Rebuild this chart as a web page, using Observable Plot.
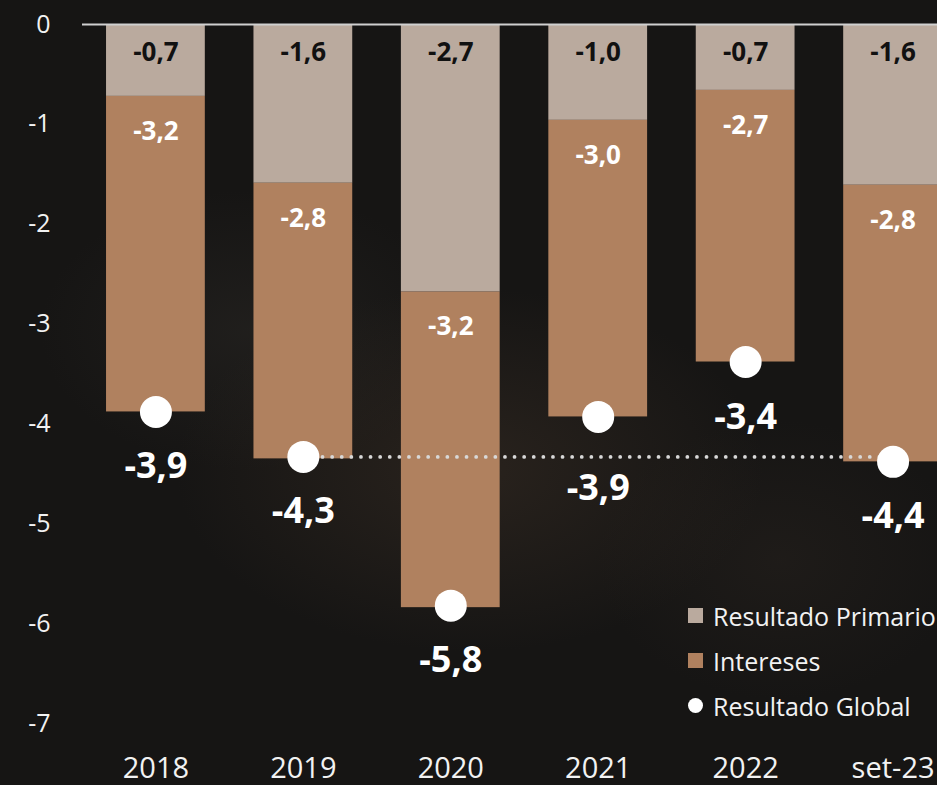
<!DOCTYPE html>
<html>
<head>
<meta charset="utf-8">
<script src="https://cdn.jsdelivr.net/npm/d3@7"></script>
<script src="https://cdn.jsdelivr.net/npm/@observablehq/plot@0.6"></script>
<style>
  html, body { margin: 0; padding: 0; overflow: hidden; }
  body {
    width: 937px; height: 785px;
    background:
      radial-gradient(ellipse 420px 260px at 470px 470px, rgba(60,48,38,0.5), rgba(0,0,0,0) 70%),
      radial-gradient(ellipse 300px 200px at 250px 330px, rgba(55,52,48,0.3), rgba(0,0,0,0) 70%),
      radial-gradient(ellipse 260px 200px at 780px 560px, rgba(50,42,36,0.3), rgba(0,0,0,0) 70%),
      #161514;
    font-family: "Open Sans", "Noto Sans", sans-serif;
  }
  #wrap { position: relative; width: 937px; height: 785px; }
  #legend { position: absolute; left: 688px; top: 593px; color: #f2f2f2; font-size: 25px; }
  #legend .row { display: flex; align-items: center; height: 45px; white-space: nowrap; }
  #legend .sw { width: 15px; height: 15px; margin-right: 10px; flex: none; }
  #legend .ci { width: 15px; height: 15px; border-radius: 50%; background: #fff; margin-right: 10px; flex: none; }
</style>
</head>
<body>
<div id="wrap"></div>
<script>
const categorias = ["2018", "2019", "2020", "2021", "2022", "set-23"];
const resultadoPrimario = [-0.72, -1.59, -2.68, -0.96, -0.66, -1.61];
const intereses = [-3.16, -2.76, -3.16, -2.97, -2.72, -2.77];
const resultadoGlobal = [-3.88, -4.33, -5.82, -3.93, -3.38, -4.38];
const yTicks = [0, -1, -2, -3, -4, -5, -6, -7];
const series = ["Resultado Primario", "Intereses", "Resultado Global"];
const colores = ["#baaa9e", "#b0815f", "#ffffff"];

const fmt = v => v.toFixed(1).replace(".", ",");

const primRows = categorias.map((c, i) => ({cat: c, y1: 0, y2: resultadoPrimario[i], v: resultadoPrimario[i]}));
const intRows = categorias.map((c, i) => ({cat: c, y1: resultadoPrimario[i], y2: resultadoPrimario[i] + intereses[i], v: intereses[i]}));
const globRows = categorias.map((c, i) => ({cat: c, v: resultadoGlobal[i]}));
const refLine = [
  {cat: categorias[1], v: resultadoGlobal[1]},
  {cat: categorias[5], v: resultadoGlobal[1]}
];

const chart = Plot.plot({
  width: 937,
  height: 785,
  marginLeft: 82,
  marginRight: 0,
  marginTop: 24,
  marginBottom: 62,
  style: {background: "transparent", color: "#f2f2f2", fontFamily: "'Open Sans', 'Noto Sans', sans-serif", overflow: "hidden"},
  x: {type: "band", domain: categorias, range: [82, 966], paddingInner: 0.33, paddingOuter: 0.163, round: false, label: null},
  y: {domain: [-7, 0], label: null},
  marks: [
    Plot.barY(primRows, {x: "cat", y1: "y1", y2: "y2", fill: colores[0]}),
    Plot.barY(intRows, {x: "cat", y1: "y1", y2: "y2", fill: colores[1]}),
    Plot.ruleY([0], {stroke: "#d0d0d0", strokeWidth: 2}),
    Plot.line(refLine, {x: "cat", y: "v", stroke: "#d8d8d8", strokeWidth: 3.8, strokeDasharray: "0 9.6", strokeLinecap: "round"}),
    Plot.dot(globRows, {x: "cat", y: "v", r: 16, fill: colores[2], stroke: null}),
    Plot.text(primRows, {x: "cat", y: "y1", text: d => fmt(d.v), dy: 28, fill: "#111", fontSize: 26, fontWeight: "bold"}),
    Plot.text(intRows, {x: "cat", y: "y1", text: d => fmt(d.v), dy: 35, fill: "#fff", fontSize: 26, fontWeight: "bold"}),
    Plot.text(globRows, {filter: d => d.cat !== "2021", x: "cat", y: "v", text: d => fmt(d.v), dy: 55, fill: "#fff", fontSize: 36, fontWeight: "bold"}),
    Plot.text(globRows, {filter: d => d.cat === "2021", x: "cat", y: "v", text: d => fmt(d.v), dy: 72, fill: "#fff", fontSize: 36, fontWeight: "bold"}),
    Plot.axisY({ticks: yTicks, tickSize: 0, tickPadding: 32, tickFormat: d => String(d), fontSize: 25, fill: "#f2f2f2", label: null}),
    Plot.axisX({tickSize: 0, tickPadding: 34, fontSize: 29, fill: "#f2f2f2", label: null})
  ]
});

const wrap = document.getElementById("wrap");
wrap.appendChild(chart);

const legend = document.createElement("div");
legend.id = "legend";
series.forEach((s, i) => {
  const row = document.createElement("div");
  row.className = "row";
  const sw = document.createElement("span");
  if (i < 2) { sw.className = "sw"; sw.style.background = colores[i]; }
  else { sw.className = "ci"; }
  const t = document.createElement("span");
  t.textContent = s;
  row.appendChild(sw);
  row.appendChild(t);
  legend.appendChild(row);
});
wrap.appendChild(legend);
</script>
</body>
</html>
